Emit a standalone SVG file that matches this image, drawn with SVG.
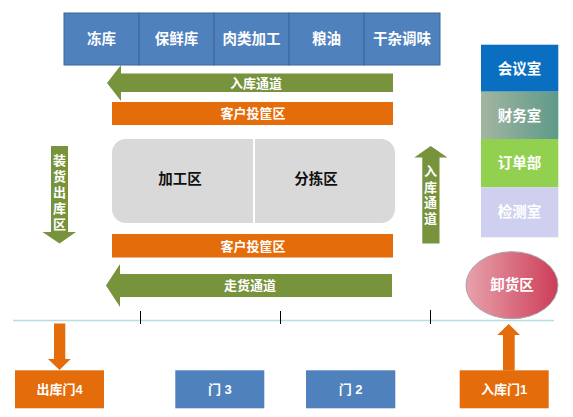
<svg xmlns="http://www.w3.org/2000/svg" width="573" height="417" viewBox="0 0 573 417">
<defs>
<style>
text{font-family:"Liberation Sans","Noto Sans CJK SC",sans-serif;font-weight:bold;text-anchor:middle;dominant-baseline:central;fill:#fff}
.blue{fill:#4f81bd;stroke:#3a679c;stroke-width:1}
.green{fill:#77933c}
.orange{fill:#e46c0a}
.t15{font-size:14.5px}
.t13{font-size:13px}
.dark{fill:#111}
.tick{stroke:#000;stroke-width:1}
</style>
<linearGradient id="gFin" x1="0" y1="0" x2="1" y2="0">
<stop offset="0" stop-color="#a3b5a1"/>
<stop offset="1" stop-color="#5e9a89"/>
</linearGradient>
<linearGradient id="gUnload" x1="0" y1="0" x2="1" y2="0">
<stop offset="0" stop-color="#e8a2ac"/>
<stop offset="1" stop-color="#cc3d58"/>
</linearGradient>
</defs>

<g id="storage">
<rect class="blue" x="64" y="13" width="75" height="52"/>
<rect class="blue" x="139" y="13" width="75" height="52"/>
<rect class="blue" x="214" y="13" width="75" height="52"/>
<rect class="blue" x="289" y="13" width="75" height="52"/>
<rect class="blue" x="364" y="13" width="76" height="52"/>
<text class="t15" x="101.5" y="39">冻库</text>
<text class="t15" x="176.5" y="39">保鲜库</text>
<text class="t15" x="251.5" y="39">肉类加工</text>
<text class="t15" x="326.5" y="39">粮油</text>
<text class="t15" x="402" y="39">干杂调味</text>
</g>

<g id="connectors">
<path id="inbound-top" class="green" d="M107,83 L121,65 L121,73.5 L393,73.5 L393,92 L121,92 L121,101 Z"/>
<path id="goods-lane" class="green" d="M106,285.5 L120,264 L120,274 L392,274 L392,297 L120,297 L120,307 Z"/>
<path id="loading-out" class="green" d="M51,146 L68,146 L68,232 L76,232 L59.5,243.5 L42.5,232 L51,232 Z"/>
<path id="inbound-right" class="green" d="M430.7,146 L447.5,157.5 L439.5,157.5 L439.5,243.5 L422.3,243.5 L422.3,157.5 L414.3,157.5 Z"/>
<path id="out-door4" class="orange" d="M54,323.5 L65.3,323.5 L65.3,359 L70.7,359 L59.5,370 L48,359 L54,359 Z"/>
<path id="in-door1" class="orange" d="M508.7,324 L520,335 L514.7,335 L514.7,370.5 L503,370.5 L503,335 L497.3,335 Z"/>
<line x1="13" y1="320.5" x2="554" y2="320.5" stroke="#b6dde2" stroke-width="1.5"/>
<line class="tick" x1="140.5" y1="311" x2="140.5" y2="324"/>
<line class="tick" x1="280.5" y1="311" x2="280.5" y2="324"/>
<line class="tick" x1="430.5" y1="310" x2="430.5" y2="324"/>
<text class="t13" x="256" y="83">入库通道</text>
<text class="t13" x="250" y="285.5">走货通道</text>
<text class="t13" x="59.5" y="160">装</text>
<text class="t13" x="59.5" y="176">货</text>
<text class="t13" x="59.5" y="192.5">出</text>
<text class="t13" x="59.5" y="208">库</text>
<text class="t13" x="59.5" y="224">区</text>
<text class="t13" x="430.5" y="171.5">入</text>
<text class="t13" x="430.5" y="187">库</text>
<text class="t13" x="430.5" y="202.5">通</text>
<text class="t13" x="430.5" y="218.5">道</text>
</g>

<g id="drop-zone-top">
<rect class="orange" x="112" y="102" width="281" height="23"/>
<text class="t13" x="253" y="113.5">客户投筐区</text>
</g>

<g id="work-area">
<rect x="112" y="139" width="283" height="84" rx="14" fill="#d9d9d9"/>
<line x1="254" y1="139" x2="254" y2="223" stroke="#fff" stroke-width="2"/>
<text class="t15 dark" x="180" y="179">加工区</text>
<text class="t15 dark" x="316" y="179">分拣区</text>
</g>

<g id="drop-zone-bottom">
<rect class="orange" x="112" y="234" width="281" height="23.5"/>
<text class="t13" x="253" y="246">客户投筐区</text>
</g>

<g id="offices">
<rect x="481" y="44.7" width="77.3" height="47" fill="#0a6fc0"/>
<rect x="481" y="91.7" width="77.3" height="47.3" fill="url(#gFin)"/>
<rect x="481" y="139" width="77.3" height="48.3" fill="#92d050"/>
<rect x="481" y="187.3" width="77.3" height="50" fill="#cfd0ef"/>
<text class="t15" x="519.6" y="69">会议室</text>
<text class="t15" x="519.6" y="116">财务室</text>
<text class="t15" x="519.6" y="163">订单部</text>
<text class="t15" x="519.6" y="212">检测室</text>
</g>

<g id="unload">
<ellipse cx="512" cy="285.2" rx="46" ry="33.5" fill="url(#gUnload)" stroke="#a7a7a7" stroke-width="1"/>
<text class="t15" x="512" y="285">卸货区</text>
</g>

<g id="door4">
<rect class="orange" x="15" y="370.3" width="89" height="38"/>
<text class="t13" x="59.5" y="389.5">出库门4</text>
</g>
<g id="door3">
<rect x="175.3" y="370.3" width="89" height="38" fill="#4f81bd"/>
<text class="t13" x="219.8" y="389.5">门 3</text>
</g>
<g id="door2">
<rect x="306" y="370.3" width="89.3" height="38" fill="#4f81bd"/>
<text class="t13" x="350.6" y="389.5">门 2</text>
</g>
<g id="door1">
<rect class="orange" x="459.7" y="370.3" width="89" height="38"/>
<text class="t13" x="504.2" y="389.5">入库门1</text>
</g>
</svg>
